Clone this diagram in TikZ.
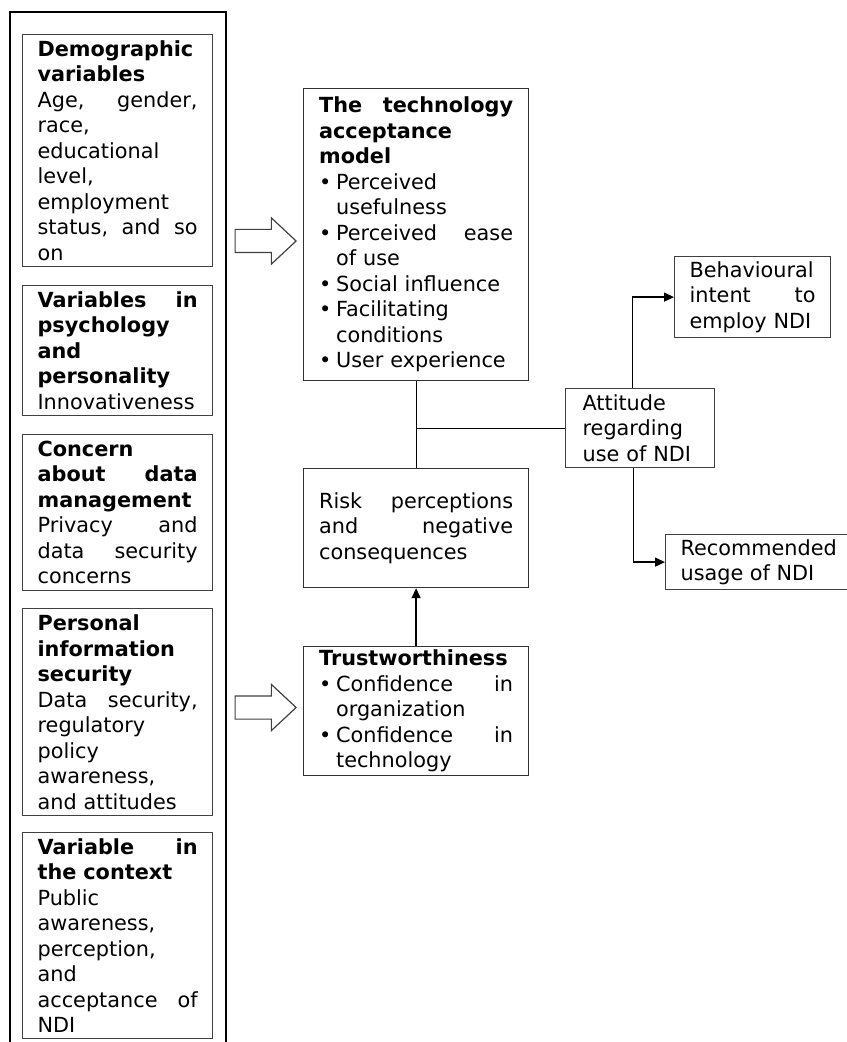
\documentclass[tikz,border=0pt]{standalone}
\usepackage{fontspec}
\setmainfont{DejaVu Sans}
\usepackage{tikz}
\usetikzlibrary{arrows.meta,positioning,shapes.arrows}
\newcommand{\bul}{\makebox[8.5pt][l]{\textbullet}}
\newcommand{\hang}{\hspace*{8.5pt}}

\begin{document}
\begin{tikzpicture}[
  x=0.5pt, y=-0.5pt,
  every node/.style={font=\fontsize{10.4pt}{12.75pt}\selectfont},
  varbox/.style={draw=black!75, line width=0.6pt, anchor=north west, minimum width=95pt, text width=80pt, inner xsep=7.5pt, inner ysep=0pt, align=left},
  midbox/.style={draw=black!80, line width=0.6pt, anchor=north west, minimum width=112.5pt, text width=97pt, inner xsep=7.75pt, inner ysep=0pt, align=left},
  sidebox/.style={draw=black!75, line width=0.6pt, anchor=north west, inner xsep=7.5pt, inner ysep=0pt, align=left},
  blockarrow/.style={single arrow, draw=black!75, line width=0.6pt, anchor=tip, inner xsep=0pt, inner ysep=5.5pt, minimum height=30.5pt, single arrow head extend=5.75pt, single arrow tip angle=86},
  link/.style={line width=0.6pt},
  arrow/.style={-{Triangle[length=5pt,width=4.5pt]}, line width=0.7pt}
]
  \useasboundingbox (0,0) rectangle (846,1042);

  % Outer frame of the left column
  \draw[line width=0.8pt] (10,1042) -- (10,12) -- (226,12) -- (226,1042);

  % Left column
  \node[varbox, minimum height=116pt] (dem) at (22,34)
    {\textbf{Demographic\\variables}\\Age,\hfill gender,\\race,\\educational\\level,\\employment\\status,\hfill and\hfill so\\on};
  \node[varbox, minimum height=65pt] (psy) at (22,285)
    {\textbf{Variables\hfill in\\psychology\\and\\personality}\\Innovativeness};
  \node[varbox, minimum height=78pt] (dat) at (22,434)
    {\textbf{Concern\\about\hfill data\\management}\\Privacy\hfill and\\data\hfill security\\concerns};
  \node[varbox, minimum height=103.5pt] (sec) at (22,608)
    {\textbf{Personal\\information\\security}\\Data\hfill security,\\regulatory\\policy\\awareness,\\and attitudes};
  \node[varbox, minimum height=103pt] (ctx) at (22,832)
    {\textbf{Variable\hfill in\\the context}\\Public\\awareness,\\perception,\\and\\acceptance\hfill of\\NDI};

  % Middle column
  \node[midbox, minimum height=146pt] (tam) at (303,88)
    {\textbf{The\hfill technology\\acceptance\\model}\\
     \bul Perceived\\\hang usefulness\\
     \bul Perceived\hfill ease\\\hang of use\\
     \bul Social influence\\
     \bul Facilitating\\\hang conditions\\
     \bul User experience};
  \node[midbox, minimum height=59.5pt] (risk) at (303,468)
    {Risk\hfill perceptions\\and\hfill negative\\consequences};
  \node[midbox, minimum height=64.5pt] (trust) at (303,646)
    {\textbf{Trustworthiness}\\
     \bul Confidence\hfill in\\\hang organization\\
     \bul Confidence\hfill in\\\hang technology};

  % Right column
  \node[sidebox, text width=57.5pt, inner xsep=8.5pt, minimum height=39.5pt] (att) at (565,388)
    {Attitude\\regarding\\use of NDI};
  \node[sidebox, text width=63pt, minimum height=40.5pt] (beh) at (674,256)
    {Behavioural\\intent\hfill to\\employ NDI};
  \node[sidebox, minimum width=90pt, minimum height=27.5pt] (rec) at (665,534)
    {Recommended\\usage of NDI};

  % Block arrows into the models
  \node[blockarrow] (in1) at (297,241) {};
  \node[blockarrow] (in2) at (297,707.5) {};

  % Connectors
  \draw[link] (tam) -- (risk);
  \draw[link] (att.west) -- (att.west -| tam.south);
  \draw[arrow] (trust) -- (risk);
  \draw[arrow] ([xshift=-3.75pt]att.north) |- (beh.west);
  \draw[arrow] ([xshift=-3.25pt]att.south) |- (rec.west);
\end{tikzpicture}
\end{document}
